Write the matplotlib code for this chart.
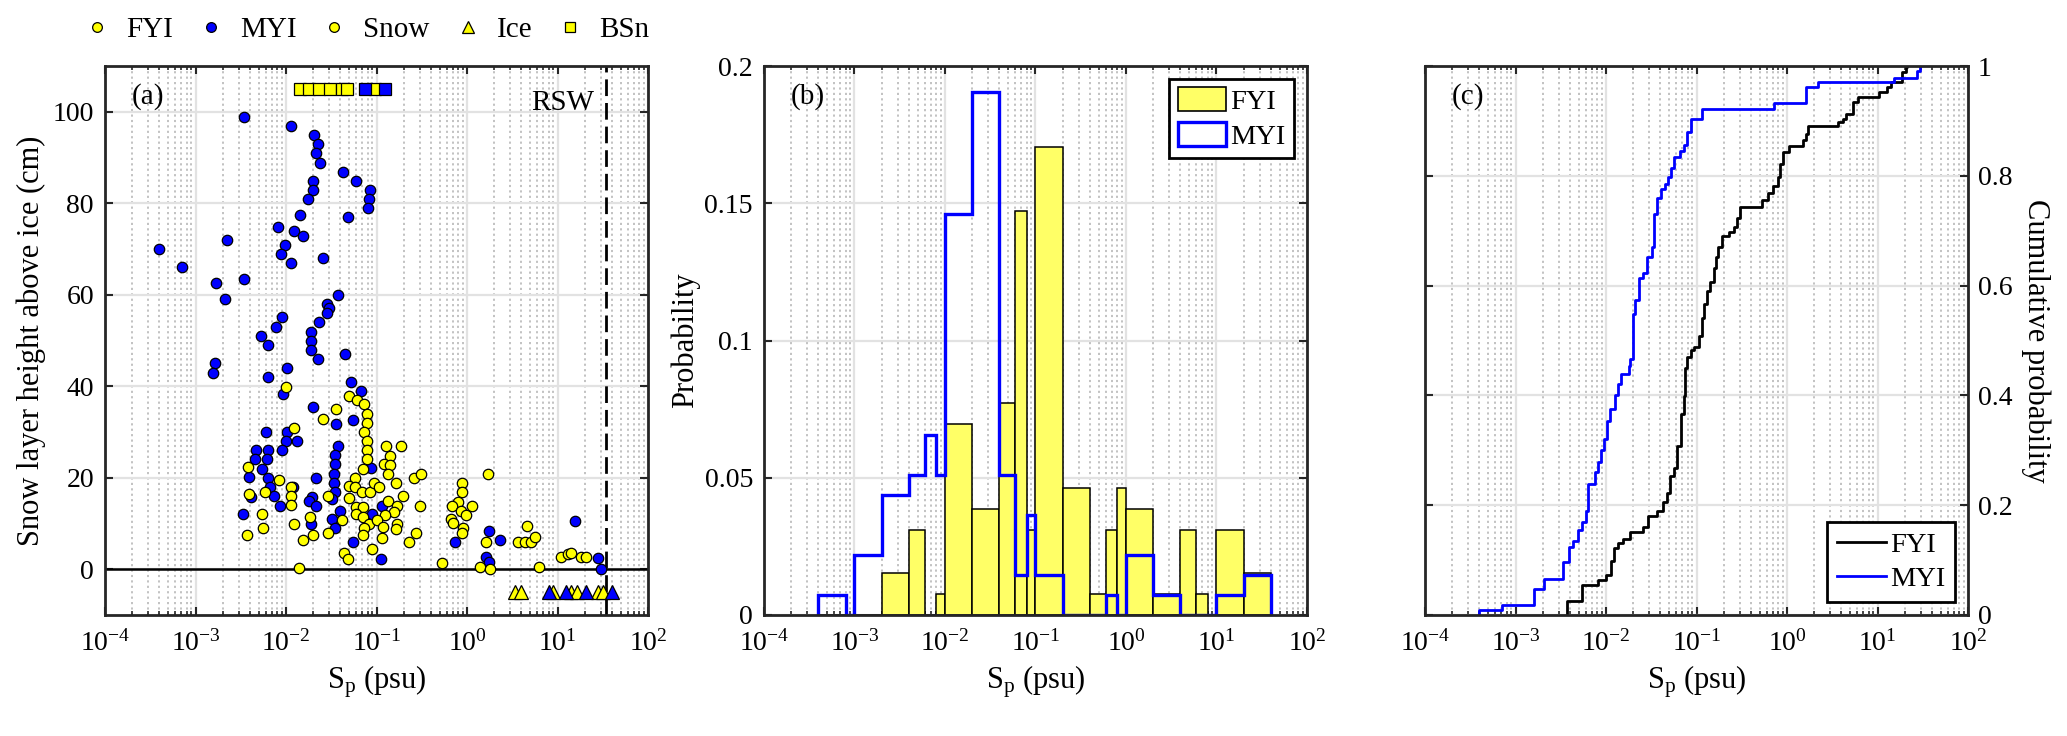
import matplotlib
matplotlib.use("Agg")
import matplotlib.pyplot as plt
from matplotlib.lines import Line2D
from matplotlib.patches import Patch
from matplotlib.ticker import (LogLocator, NullFormatter, FixedLocator,
                               LogFormatterSciNotation)
import numpy as np

plt.rcParams['font.family'] = ['Liberation Serif', 'DejaVu Serif']
plt.rcParams['mathtext.fontset'] = 'custom'
plt.rcParams['mathtext.rm'] = 'Liberation Serif'
plt.rcParams['mathtext.it'] = 'Liberation Serif:italic'
plt.rcParams['axes.unicode_minus'] = False
plt.rcParams['font.size'] = 20

# ---- panel (a): snow samples, log10(Sp) and height above ice (cm)
myi_log = [-2.46, -1.94, -1.69, -1.65, -1.67, -1.62, -1.37, -1.23, -1.70, -1.70,
           -1.07, -1.08, -1.09, -1.76, -1.85, -1.32, -2.09, -1.91, -1.81, -2.65,
           -2.01, -3.40, -2.05, -1.59, -1.94, -3.15, -2.46, -2.77, -1.42, -2.67,
           -1.55, -1.52, -1.55, -2.04, -1.63, -2.11,
           -2.78, -2.81, -2.28, -2.20, -2.20, -1.985, -2.03, -1.72, -1.72, -1.72,
           -1.65, -1.35, -1.285, -1.17, -1.70, -1.45, -1.26, -2.22, -1.985, -2.00,
           -1.88, -2.04, -2.33, -2.20, -2.34, -2.21, -2.26, -2.41, -2.20, -2.18,
           -2.13, -2.07, -2.39, -2.48, -1.43, -1.46, -1.46, -1.47, -1.47, -1.46,
           -1.49, -1.67, -1.92, -1.71, -1.75, -1.67, -1.72, -1.49, -1.46, -1.40,
           -1.26, -0.945, -1.06, -0.94, -1.05, -0.13,
           0.21, 0.24, 0.24, 0.37, 1.19, 1.45, 1.48]
myi_h = [98.9, 96.9, 94.9, 92.9, 90.9, 88.9, 86.9, 84.9, 84.9, 82.9,
         82.9, 80.9, 78.9, 80.9, 77.5, 76.9, 74.9, 74.0, 72.9, 72.0,
         70.9, 70.0, 68.9, 68.0, 66.9, 66.0, 63.5, 62.5, 60.0, 59.1,
         58.0, 57.1, 56.0, 55.1, 54.0, 52.9,
         45.0, 42.9, 51.0, 49.0, 42.0, 44.0, 38.4, 51.9, 49.9, 47.9,
         45.9, 47.0, 40.9, 39.0, 35.5, 31.8, 32.6, 30.0, 30.0, 28.0,
         28.0, 26.0, 26.0, 26.0, 24.0, 24.0, 22.0, 20.1, 19.9, 18.0,
         16.1, 13.9, 15.8, 12.0, 26.9, 24.9, 22.9, 20.9, 18.8, 16.9,
         15.4, 19.9, 18.0, 15.9, 14.9, 13.9, 9.9, 11.0, 9.1, 12.8,
         5.9, 2.3, 22.1, 13.8, 12.0, 5.9,
         2.7, 1.6, 8.4, 6.3, 10.5, 2.5, 0.1]

fyi_log = [-2.0, -1.91, -2.42, -2.41, -2.26, -2.43, -2.25, -2.23, -2.08, -1.94,
           -1.94, -1.94, -1.91, -1.81, -1.73, -1.70, -1.54, -1.54, -1.38, -1.59,
           -1.45, -1.30, -1.22, -1.14, -1.11, -1.11, -1.14, -1.11, -1.11, -1.11,
           -1.15, -1.24, -1.30, -1.24, -1.16, -1.07, -1.03, -0.97, -1.30, -1.23,
           -1.15, -1.23, -1.15, -1.08, -1.14, -1.15, -1.05, -1.36, -1.31, -1.86,
           -0.89, -0.85, -0.92, -0.85, -0.87, -0.73, -0.79, -0.71, -0.87, -0.77,
           -0.81, -0.91, -0.99, -0.93, -0.77, -0.79, -0.94, -0.64, -0.56, -0.59,
           -0.51, -0.52, -0.28, -0.06, -0.06, -0.10, -0.17, -0.07, -0.01, -0.18,
           -0.16, -0.04, -0.05, 0.06, 0.14,
           0.23, 0.21, 0.25, 0.564, 0.637, 0.711, 0.66, 0.75, 0.80, 1.04,
           1.12, 1.15, 1.26, 1.32]
fyi_h = [39.9, 30.9, 22.3, 16.5, 12.0, 7.5, 9.0, 16.9, 19.4, 18.0,
         16.0, 14.1, 9.9, 6.4, 11.4, 7.5, 16.0, 8.0, 10.8, 32.9,
         35.0, 37.9, 36.9, 36.1, 34.0, 32.0, 30.0, 28.0, 26.0, 24.0,
         22.0, 19.9, 18.1, 18.0, 16.9, 16.9, 18.8, 18.0, 15.5, 13.6,
         13.6, 12.0, 11.4, 9.9, 9.1, 7.5, 4.5, 3.5, 2.3, 0.3,
         26.9, 24.7, 22.9, 22.8, 20.9, 26.9, 18.9, 16.0, 14.9, 13.9,
         12.5, 11.8, 10.8, 9.3, 9.9, 8.8, 6.9, 5.9, 8.0, 19.9,
         20.9, 13.9, 1.4, 18.8, 16.9, 14.8, 13.9, 12.8, 11.9, 10.9,
         10.1, 9.0, 8.0, 13.9, 0.4,
         20.9, 6.0, 0.1, 6.0, 6.0, 6.0, 9.5, 7.1, 0.5, 2.7,
         3.4, 3.6, 2.6, 2.6]

# sea ice samples (triangles) and blowing snow (squares), log10(Sp)
ice_fyi_log = [0.527, 0.60, 0.95, 1.15, 1.22, 1.45, 1.50]
ice_myi_log = [0.905, 1.095, 1.31, 1.60]
bsn_fyi_log = [-1.843, -1.75, -1.64, -1.513, -1.377, -1.322, -1.019]
bsn_myi_log = [-1.124, -0.909]
rsw_sp = 34.0

# ---- panel (b): histogram (probability per bin)
bin_edges = [4e-4, 6e-4, 8e-4, 1e-3, 2e-3, 4e-3, 6e-3, 8e-3, 0.01, 0.02, 0.04,
             0.06, 0.08, 0.1, 0.2, 0.4, 0.6, 0.8, 1, 2, 4, 6, 8, 10, 20, 40]
fyi_prob = [0, 0, 0, 0, 0.0154, 0.0309, 0, 0.0077, 0.0695, 0.0386, 0.0772,
            0.147, 0.0309, 0.1705, 0.0463, 0.0077, 0.0309, 0.0463, 0.0386,
            0.0077, 0.0309, 0.0077, 0, 0.0309, 0.0154]
myi_prob = [0.0073, 0.0073, 0, 0.0219, 0.0438, 0.0511, 0.0657, 0.0511, 0.146,
            0.1905, 0.0511, 0.0146, 0.0365, 0.0146, 0, 0, 0.0073, 0, 0.0219,
            0.0073, 0, 0, 0, 0.0073, 0.0146]

# ---- panel (c): cumulative probability steps (log10(Sp), value after step)
cdf_fyi_log = [-2.435, -2.26, -2.085, -2.00, -1.945, -1.91, -1.87, -1.81, -1.73, -1.59,
               -1.54, -1.44, -1.37, -1.33, -1.29, -1.25, -1.22, -1.17, -1.14, -1.125,
               -1.10, -1.06, -1.03, -0.97, -0.94, -0.915, -0.88, -0.85, -0.81, -0.78,
               -0.76, -0.72, -0.645, -0.59, -0.55, -0.52, -0.28, -0.205, -0.155, -0.10,
               -0.074, -0.044, 0.02, 0.176, 0.212, 0.23, 0.56, 0.615, 0.652, 0.725,
               0.78, 1.018, 1.11, 1.147, 1.275, 1.311, 1.33]
cdf_fyi_p = [0.026, 0.055, 0.063, 0.073, 0.099, 0.122, 0.131, 0.138, 0.152, 0.161,
             0.180, 0.190, 0.206, 0.222, 0.254, 0.268, 0.307, 0.366, 0.398, 0.450,
             0.470, 0.483, 0.489, 0.509, 0.541, 0.567, 0.590, 0.606, 0.632, 0.652,
             0.671, 0.690, 0.697, 0.707, 0.723, 0.744, 0.756, 0.768, 0.781, 0.798,
             0.821, 0.844, 0.854, 0.865, 0.877, 0.890, 0.898, 0.904, 0.913, 0.935,
             0.944, 0.953, 0.961, 0.971, 0.989, 0.998, 1.0]
cdf_myi_log = [-3.40, -3.15, -2.80, -2.68, -2.48, -2.41, -2.36, -2.31, -2.27, -2.22,
               -2.20, -2.12, -2.09, -2.06, -2.02, -1.99, -1.96, -1.90, -1.87, -1.83,
               -1.75, -1.73, -1.70, -1.68, -1.63, -1.59, -1.55, -1.49, -1.47, -1.44,
               -1.39, -1.35, -1.32, -1.28, -1.25, -1.18, -1.14, -1.11, -1.06, -0.94,
               -0.147, 0.205, 0.34, 1.18, 1.44, 1.47]
cdf_myi_p = [0.009, 0.018, 0.047, 0.066, 0.096, 0.124, 0.135, 0.154, 0.170, 0.190,
             0.239, 0.260, 0.278, 0.300, 0.320, 0.353, 0.375, 0.400, 0.421, 0.439,
             0.453, 0.466, 0.548, 0.574, 0.613, 0.623, 0.653, 0.671, 0.730, 0.759,
             0.776, 0.785, 0.798, 0.815, 0.834, 0.845, 0.856, 0.880, 0.904, 0.922,
             0.932, 0.961, 0.971, 0.979, 0.990, 1.0]

x_ticks = [1e-4, 1e-3, 1e-2, 1e-1, 1, 10, 100]

YEL = (1, 1, 0)
BLU = (0, 0, 1)
PALE = '#ffff66'
AXC = '#262626'
ICE_Y = -5
BSN_Y = 105
LBL = 22

fig = plt.figure(figsize=(20.67, 7.36), dpi=100)
W, H = 2067, 736
lefts = [105, 764, 1425]
axes = [fig.add_axes([l / W, 121 / H, 543 / W, 549 / H]) for l in lefts]


def style_axis(ax):
    ax.set_xscale('log')
    ax.set_xlim(1e-4, 1e2)
    ax.xaxis.set_major_locator(FixedLocator(x_ticks))
    ax.xaxis.set_major_formatter(LogFormatterSciNotation())
    ax.xaxis.set_minor_locator(LogLocator(base=10, subs=np.arange(2, 10), numticks=20))
    ax.xaxis.set_minor_formatter(NullFormatter())
    ax.set_axisbelow(True)
    ax.grid(True, which='major', color='#e2e2e2', lw=1.6, ls='-')
    ax.grid(True, which='minor', axis='x', color='#bdbdbd', lw=1.3, ls=(0, (1.2, 1.8)))
    for s in ax.spines.values():
        s.set_color(AXC)
        s.set_linewidth(2)
        s.set_zorder(5)
    ax.tick_params(which='both', direction='in', top=True, right=True, color=AXC,
                   labelsize=20)
    ax.tick_params(which='major', length=5.5, width=1.5)
    ax.tick_params(which='minor', length=3, width=1.2)
    ax.tick_params(axis='x', pad=11)
    ax.tick_params(axis='y', pad=8)
    ax.set_xlabel('S$_\\mathrm{p}$ (psu)', fontsize=LBL, labelpad=5)


# ---------------- (a)
ax = axes[0]
style_axis(ax)
ax.set_ylim(-10, 110)
ax.yaxis.set_major_locator(FixedLocator([0, 20, 40, 60, 80, 100]))
ax.axhline(0, color='k', lw=1.8, zorder=2)
ax.axvline(rsw_sp, color='k', lw=2, ls=(0, (6, 2.5)), zorder=2)
ms = dict(ls='none', mec='k', mew=0.9, zorder=3)
ax.plot(10 ** np.array(myi_log), myi_h, 'o', ms=7.5, mfc=BLU, **ms)
ax.plot(10 ** np.array(fyi_log), fyi_h, 'o', ms=7.5, mfc=YEL, **ms)
ax.plot(10 ** np.array(ice_fyi_log), [ICE_Y] * len(ice_fyi_log), '^', ms=10.5, mfc=YEL, **ms)
ax.plot(10 ** np.array(ice_myi_log), [ICE_Y] * len(ice_myi_log), '^', ms=10.5, mfc=BLU, **ms)
ax.plot(10 ** np.array(bsn_fyi_log), [BSN_Y] * len(bsn_fyi_log), 's', ms=8, mfc=YEL, **ms)
ax.plot(10 ** np.array(bsn_myi_log), [BSN_Y] * len(bsn_myi_log), 's', ms=8, mfc=BLU, **ms)
ax.text(rsw_sp / 1.32, 102, 'RSW', ha='right', va='center', fontsize=21)
ax.text(0.05, 0.945, '(a)', transform=ax.transAxes, va='center', fontsize=21)
ax.set_ylabel('Snow layer height above ice (cm)', fontsize=LBL, labelpad=5)

hd = dict(ls='none', mec='k', mew=0.9)
handles = [Line2D([], [], marker='o', ms=7, mfc=YEL, **hd),
           Line2D([], [], marker='o', ms=7, mfc=BLU, **hd),
           Line2D([], [], marker='o', ms=7, mfc=YEL, **hd),
           Line2D([], [], marker='^', ms=9, mfc=YEL, **hd),
           Line2D([], [], marker='s', ms=7, mfc=YEL, **hd)]
fig.legend(handles, ['FYI', 'MYI', 'Snow', 'Ice', 'BSn'], loc='center left',
           bbox_to_anchor=(82 / W, 1 - 30 / H), ncol=5, frameon=False,
           handlelength=1.0, handletextpad=0.5, columnspacing=0.8,
           borderpad=0, borderaxespad=0, fontsize=21)

# ---------------- (b)
ax = axes[1]
style_axis(ax)
ax.set_ylim(0, 0.2)
ax.yaxis.set_major_locator(FixedLocator([0, 0.05, 0.1, 0.15, 0.2]))
ax.set_yticklabels(['0', '0.05', '0.1', '0.15', '0.2'])
edges = np.array(bin_edges)
ax.bar(edges[:-1], fyi_prob, width=np.diff(edges), align='edge', color=PALE,
       edgecolor='k', lw=1.1, zorder=2)
ax.stairs(myi_prob, edges, color=BLU, lw=2.4, zorder=3)
ax.text(0.05, 0.945, '(b)', transform=ax.transAxes, va='center', fontsize=21)
ax.set_ylabel('Probability', fontsize=LBL, labelpad=3)
leg = ax.legend(handles=[Patch(facecolor=PALE, edgecolor='k', lw=1.2),
                         Patch(facecolor='w', edgecolor=BLU, lw=2.4)],
                labels=['FYI', 'MYI'], loc='upper right', fancybox=False,
                edgecolor='k', framealpha=1, handlelength=1.7, handleheight=0.9,
                handletextpad=0.15, borderpad=0.3, borderaxespad=0.45,
                labelspacing=0.25, fontsize=20.5)
leg.get_frame().set_linewidth(2)

# ---------------- (c)
ax = axes[2]
style_axis(ax)
ax.set_ylim(0, 1)
ax.yaxis.set_major_locator(FixedLocator([0, 0.2, 0.4, 0.6, 0.8, 1]))
ax.set_yticklabels(['0', '0.2', '0.4', '0.6', '0.8', '1'])
ax.yaxis.tick_right()
ax.tick_params(axis='y', which='both', left=True, right=True, labelleft=False,
               labelright=True, pad=7)
fx = 10 ** np.array(cdf_fyi_log)
mx = 10 ** np.array(cdf_myi_log)
ax.step(np.r_[fx[0], fx], np.r_[0, cdf_fyi_p], where='post', color='k', lw=2, label='FYI')
ax.step(np.r_[mx[0], mx], np.r_[0, cdf_myi_p], where='post', color=BLU, lw=2, label='MYI')
ax.text(0.05, 0.945, '(c)', transform=ax.transAxes, va='center', fontsize=21)
ax.yaxis.set_label_position('right')
ax.set_ylabel('Cumulative probability', fontsize=LBL, rotation=270, va='bottom',
              labelpad=6)
leg = ax.legend(loc='lower right', fancybox=False, edgecolor='k', framealpha=1,
                handlelength=1.7, handletextpad=0.15, borderpad=0.35,
                borderaxespad=0.45, labelspacing=0.3, fontsize=20.5)
leg.get_frame().set_linewidth(2)

fig.savefig('out.png', dpi=100)
